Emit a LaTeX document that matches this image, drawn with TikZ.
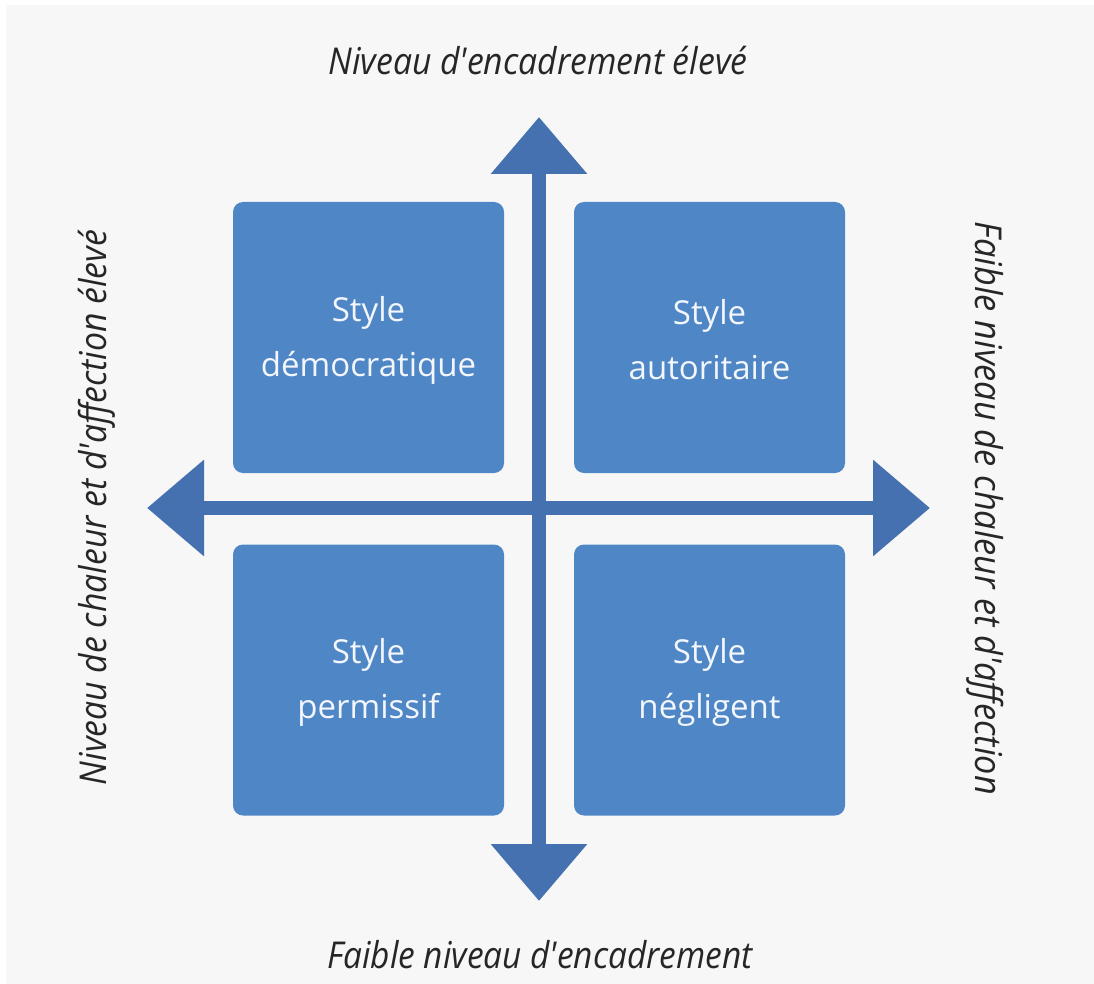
\documentclass[tikz,border=0pt]{standalone}
\usepackage{fontspec}
\usepackage{graphicx}
\setmainfont{Open Sans}
\usetikzlibrary{arrows.meta}
\definecolor{boxblue}{HTML}{4F86C6}
\definecolor{axisblue}{HTML}{4571B0}
\definecolor{panel}{HTML}{F7F7F7}
\definecolor{ink}{HTML}{262626}
\definecolor{boxtext}{HTML}{F3F6FB}
\newcommand\bxstrut{\rule[-2pt]{0pt}{32pt}}
\newcommand\apos{\textquotesingle}
\tikzset{
  quad/.style={fill=boxblue, rounded corners=10pt, minimum width=271pt, minimum height=271pt,
    inner sep=0pt, text=boxtext, align=center, font=\fontsize{33}{55}\selectfont},
  axisline/.style={draw=axisblue, line width=14pt,
    {Triangle[length=57pt,width=93pt]}-{Triangle[length=57pt,width=93pt]}},
  titletext/.style={text=ink, inner sep=0pt, anchor=base, font=\fontsize{37}{44}\selectfont\itshape}
}
\begin{document}
\begin{tikzpicture}[x=1pt,y=-1pt]
\useasboundingbox (0,0) rectangle (1094,984);
\fill[white] (0,0) rectangle (1094,984);
\fill[panel] (6,5) rectangle (1094,984);

% axes
\coordinate (topTip) at (539,117);
\coordinate (bottomTip) at (539,901);
\coordinate (leftTip) at (147,508);
\coordinate (rightTip) at (930,508);
\draw[axisline] (leftTip) -- (rightTip);
\draw[axisline] (bottomTip) -- (topTip);

% quadrants
\node[quad] (dem) at (368.5,337.5) {\bxstrut Style\\\bxstrut démocratique};
\node[quad] (aut) at (709.5,337.5) {\bxstrut Style\\\bxstrut autoritaire};
\node[quad] (per) at (368.5,680) {\bxstrut Style\\\bxstrut permissif};
\node[quad] (neg) at (709.5,680) {\bxstrut Style\\\bxstrut négligent};

% axis labels
\node[titletext] (top) at (538,75) {\resizebox{419pt}{\height}{Niveau d\apos encadrement élevé}};
\node[titletext] (bottom) at (540,968) {\resizebox{425pt}{\height}{Faible niveau d\apos encadrement}};
\node[titletext, rotate=90] (left) at (106,507.5) {\resizebox{555pt}{\height}{Niveau de chaleur et d\apos affection élevé}};
\node[titletext, rotate=-90] (right) at (975,508.5) {\resizebox{573pt}{\height}{Faible niveau de chaleur et d\apos affection}};
\end{tikzpicture}
\end{document}
